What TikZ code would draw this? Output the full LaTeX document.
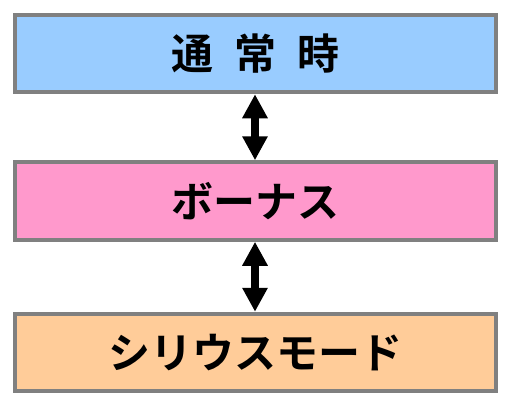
\documentclass[tikz,border=0pt]{standalone}
\usepackage{fontspec}
\usepackage{tikz}
\usetikzlibrary{positioning, arrows.meta}
\newfontfamily\jpfont{Noto Sans CJK JP}[BoldFont=* Bold]
\definecolor{cBorder}{HTML}{808080}
\definecolor{cNormal}{HTML}{99CCFF}
\definecolor{cBonus} {HTML}{FF99CC}
\definecolor{cSirius}{HTML}{FFCC99}
\tikzset{
  modebox/.style={draw=cBorder, line width=4pt, minimum width=481pt,
    minimum height=77.5pt, inner sep=0pt, font=\jpfont\bfseries\fontsize{42pt}{44pt}\selectfont},
  swaparrow/.style={{Triangle[length=24pt,width=24pt]}-{Triangle[length=24pt,width=24pt]},
    line width=8pt, black},
}
\begin{document}
\begin{tikzpicture}[x=1pt, y=-1pt]
  \useasboundingbox (0,0) rectangle (511,407);
  % three mode boxes, top to bottom
  \node[modebox, fill=cNormal] (tsujo) at (255,53.5) {通\hspace{0.5em}常\hspace{0.5em}時};
  \node[modebox, fill=cBonus] (bonus) at (255,201) {ボーナス};
  \node[modebox, fill=cSirius] (sirius) at (255,352.5) {シリウスモード};
  % transitions
  \draw[swaparrow] (tsujo.south) -- (bonus.north);
  \draw[swaparrow] (bonus.south) -- (sirius.north);
\end{tikzpicture}
\end{document}
